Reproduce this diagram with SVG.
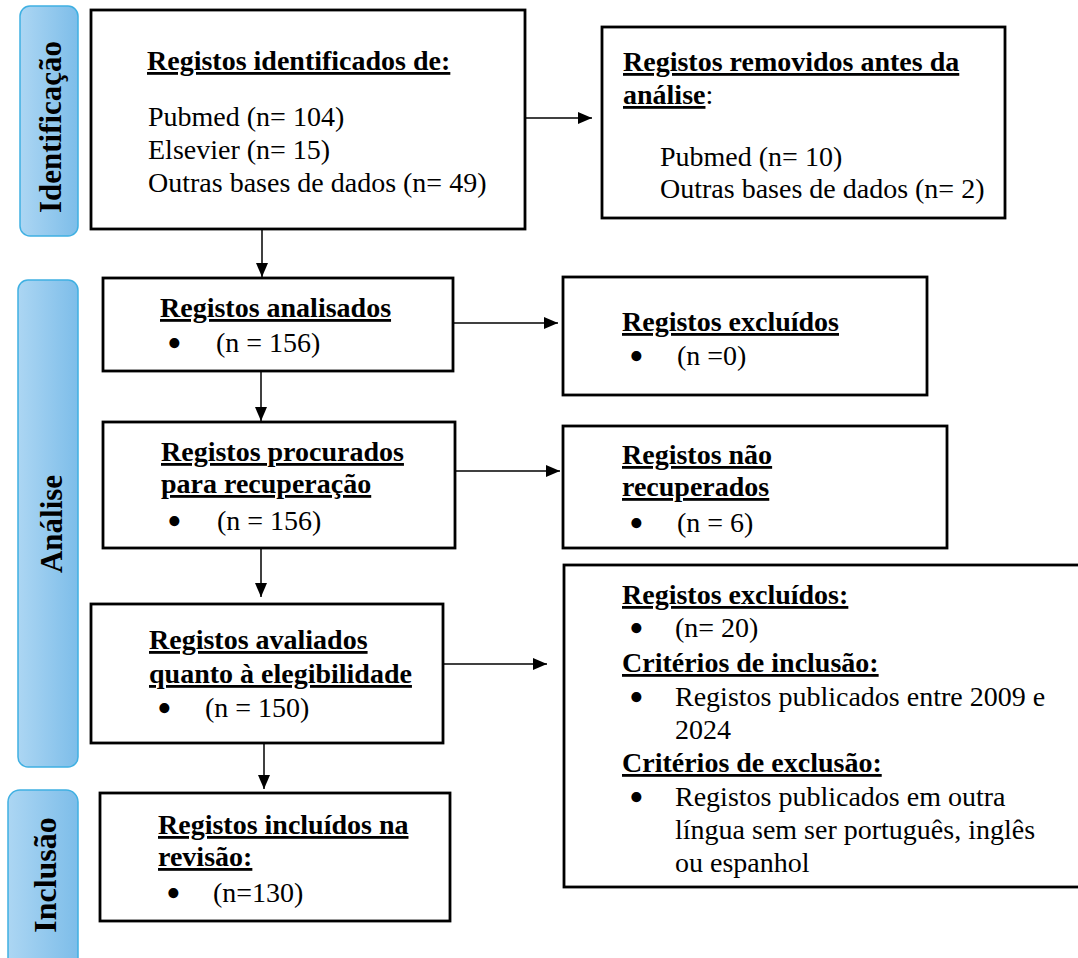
<svg xmlns="http://www.w3.org/2000/svg" width="1078" height="958" viewBox="0 0 1078 958">
<defs>
<linearGradient id="bluegrad" x1="0" y1="0" x2="1" y2="0">
<stop offset="0" stop-color="#acd6f3"/>
<stop offset="1" stop-color="#7dbde9"/>
</linearGradient>
<marker id="arrow" markerUnits="userSpaceOnUse" markerWidth="14" markerHeight="12" refX="14" refY="6" orient="auto">
<path d="M0,0 L14,6 L0,12 z" fill="#000"/>
</marker>
</defs>
<style>
.phase{fill:url(#bluegrad);stroke:#3fb0e2;stroke-width:1.5}
.phasetext{font-family:"Liberation Serif","Times New Roman",serif;font-weight:bold;font-size:31px;fill:#000;text-anchor:middle}
.box{fill:#fff;stroke:#000;stroke-width:2.8}
.t{font-family:"Liberation Serif","Times New Roman",serif;font-size:28px;fill:#000}
.b{font-family:"Liberation Serif","Times New Roman",serif;font-size:42px;fill:#000}
.h{font-weight:bold;text-decoration:underline}
.conn{stroke:#000;stroke-width:1.5;fill:none;marker-end:url(#arrow)}
</style>
<rect width="1078" height="958" fill="#fff"/>

<g id="phase-identificacao">
<rect class="phase" x="20" y="6" width="58" height="230" rx="10"/>
<text class="phasetext" transform="translate(61,127) rotate(-90)">Identificação</text>
</g>
<g id="phase-analise">
<rect class="phase" x="18" y="280" width="60" height="487" rx="10"/>
<text class="phasetext" transform="translate(62,524) rotate(-90)">Análise</text>
</g>
<g id="phase-inclusao">
<rect class="phase" x="8" y="790" width="70" height="180" rx="12"/>
<text class="phasetext" style="font-size:32px" transform="translate(56,875) rotate(-90)">Inclusão</text>
</g>

<g id="connectors">
<line class="conn" x1="525" y1="118" x2="592" y2="118"/>
<line class="conn" x1="262" y1="229" x2="262" y2="277"/>
<line class="conn" x1="453" y1="323" x2="558" y2="323"/>
<line class="conn" x1="261" y1="371" x2="261" y2="421"/>
<line class="conn" x1="455" y1="471" x2="560" y2="471"/>
<line class="conn" x1="261" y1="548" x2="261" y2="597"/>
<line class="conn" x1="443" y1="664" x2="547" y2="664"/>
<line class="conn" x1="264" y1="741" x2="264" y2="789"/>
</g>

<g id="node-identificados">
<rect class="box" x="91" y="10" width="434" height="219"/>
<text class="t h" x="147" y="70">Registos identificados de:</text>
<text class="t" x="148" y="126">Pubmed (n= 104)</text>
<text class="t" x="148" y="159">Elsevier (n= 15)</text>
<text class="t" x="148" y="192">Outras bases de dados (n= 49)</text>
</g>

<g id="node-removidos">
<rect class="box" x="602" y="27" width="403" height="191"/>
<text class="t h" x="623" y="71">Registos removidos antes da</text>
<text class="t" x="623" y="104"><tspan class="h">análise</tspan>:</text>
<text class="t" x="660" y="166">Pubmed (n= 10)</text>
<text class="t" x="660" y="198">Outras bases de dados (n= 2)</text>
</g>

<g id="node-analisados">
<rect class="box" x="103" y="278" width="350" height="93"/>
<text class="t h" x="160" y="317">Registos analisados</text>
<text class="b" x="167" y="357">•</text>
<text class="t" x="216" y="352">(n = 156)</text>
</g>

<g id="node-excluidos0">
<rect class="box" x="563" y="277" width="364" height="118"/>
<text class="t h" x="622" y="331">Registos excluídos</text>
<text class="b" x="629" y="370">•</text>
<text class="t" x="677" y="365">(n =0)</text>
</g>

<g id="node-procurados">
<rect class="box" x="103" y="422" width="352" height="126"/>
<text class="t h" x="161" y="461">Registos procurados</text>
<text class="t h" x="161" y="493">para recuperação</text>
<text class="b" x="167" y="535">•</text>
<text class="t" x="217" y="530">(n = 156)</text>
</g>

<g id="node-naorecuperados">
<rect class="box" x="563" y="426" width="384" height="122"/>
<text class="t h" x="622" y="464">Registos não</text>
<text class="t h" x="622" y="496">recuperados</text>
<text class="b" x="629" y="537">•</text>
<text class="t" x="677" y="532">(n = 6)</text>
</g>

<g id="node-avaliados">
<rect class="box" x="91" y="604" width="352" height="139"/>
<text class="t h" x="149" y="649">Registos avaliados</text>
<text class="t h" x="149" y="683">quanto à elegibilidade</text>
<text class="b" x="157" y="722">•</text>
<text class="t" x="205" y="717">(n = 150)</text>
</g>

<g id="node-excluidos20">
<rect class="box" x="564" y="565" width="520" height="322"/>
<text class="t h" x="622" y="604">Registos excluídos:</text>
<text class="b" x="629" y="642">•</text>
<text class="t" x="675" y="637">(n= 20)</text>
<text class="t h" x="622" y="672">Critérios de inclusão:</text>
<text class="b" x="629" y="711">•</text>
<text class="t" x="675" y="706">Registos publicados entre 2009 e</text>
<text class="t" x="675" y="739">2024</text>
<text class="t h" x="622" y="772">Critérios de exclusão:</text>
<text class="b" x="629" y="811">•</text>
<text class="t" x="675" y="806">Registos publicados em outra</text>
<text class="t" x="675" y="839">língua sem ser português, inglês</text>
<text class="t" x="675" y="872">ou espanhol</text>
</g>

<g id="node-incluidos">
<rect class="box" x="100" y="793" width="350" height="128"/>
<text class="t h" x="158" y="834">Registos incluídos na</text>
<text class="t h" x="158" y="866">revisão:</text>
<text class="b" x="166" y="907">•</text>
<text class="t" x="213" y="902">(n=130)</text>
</g>
</svg>
